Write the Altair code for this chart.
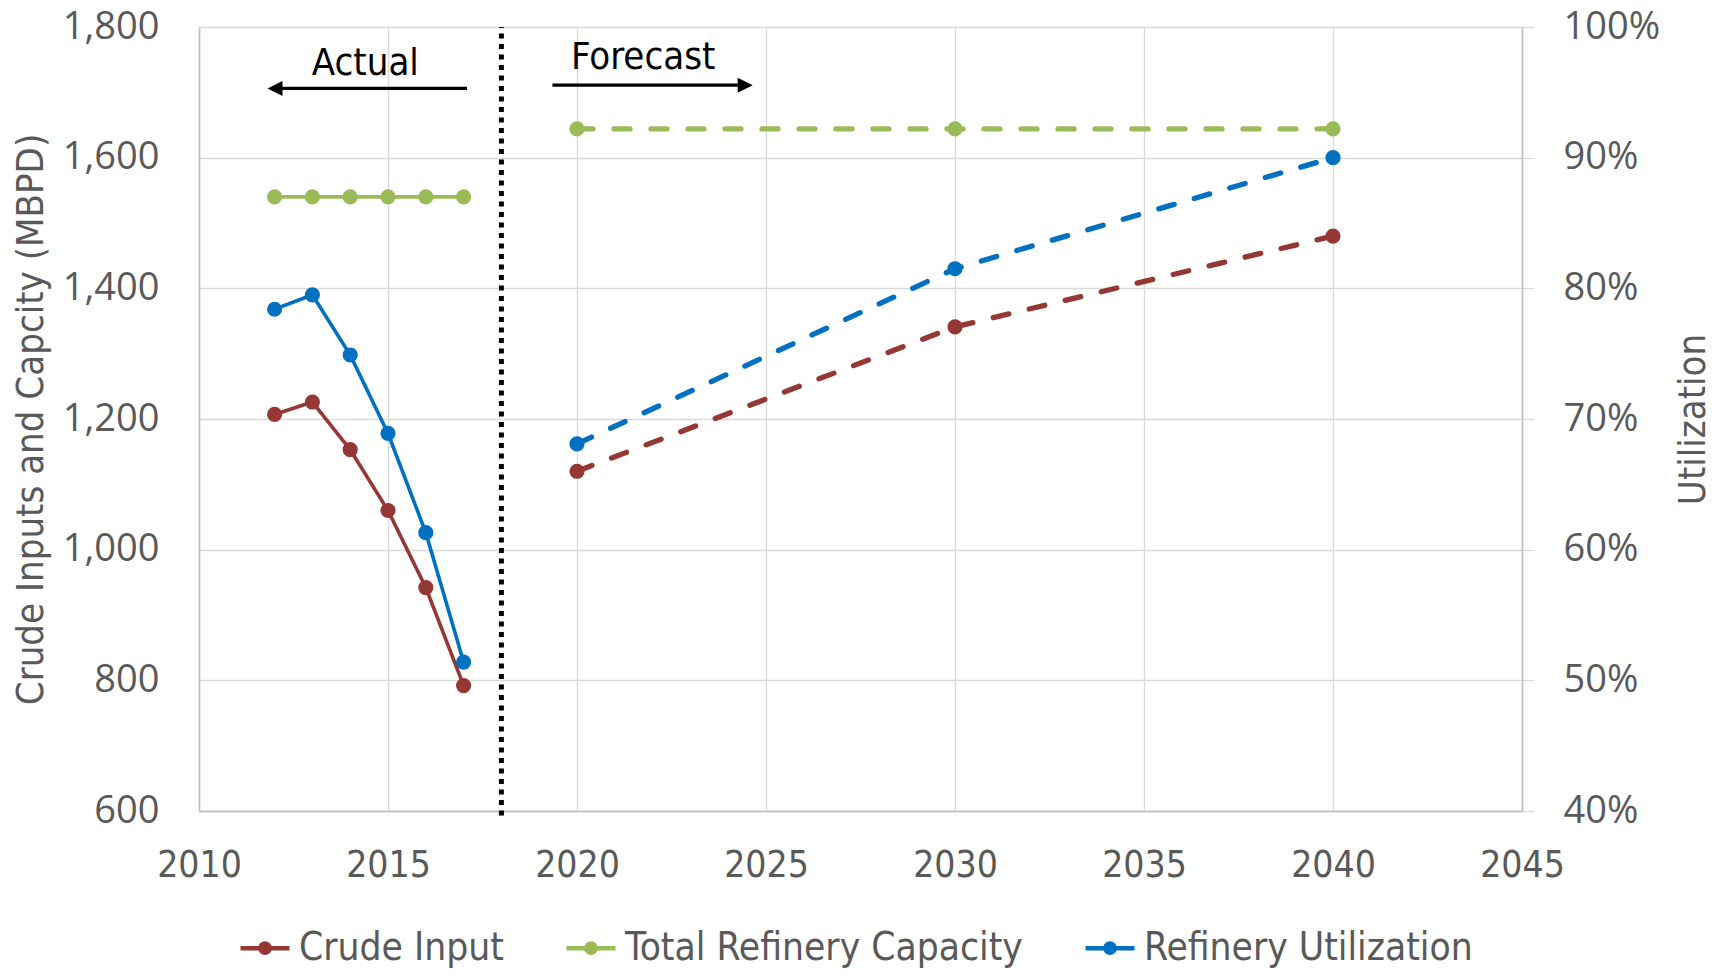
import altair as alt
import pandas as pd

# ---------------- data ----------------
years_actual = [2012, 2013, 2014, 2015, 2016, 2017]
crude_actual = [1207, 1226, 1153, 1060, 942, 792]
capacity_actual = [1540, 1540, 1540, 1540, 1540, 1540]
util_actual = [0.784, 0.795, 0.749, 0.689, 0.613, 0.514]

years_forecast = [2020, 2030, 2040]
crude_forecast = [1120, 1341, 1480]
capacity_forecast = [1644, 1644, 1644]
util_forecast = [0.681, 0.815, 0.900]

series_names = ["Crude Input", "Total Refinery Capacity", "Refinery Utilization"]
series_colors = ["#953735", "#9BBB59", "#0070C0"]
phases = ["Actual", "Forecast"]

x_ticks = [2010, 2015, 2020, 2025, 2030, 2035, 2040, 2045]
left_ticks = [600, 800, 1000, 1200, 1400, 1600, 1800]
right_ticks = [0.4, 0.5, 0.6, 0.7, 0.8, 0.9, 1.0]

divider_year = [2018]
divider_bottom = [593]
divider_top = [1800]

annotation_labels = ["Actual", "Forecast"]
annotation_x = [2014.4, 2021.75]
annotation_y = [1744, 1752]

arrow_dir = ["left", "right"]
arrow_tail_x = [2017.09, 2019.35]
arrow_head_x = [2012.01, 2024.45]
arrow_y = [1706, 1711]

# ---------------- styling ----------------
NARROW = "DejaVu Sans Condensed, sans-serif"
WIDE = "Open Sans, Liberation Sans, sans-serif"
GREY_TEXT = "#595959"
GRID = "#d9d9d9"
AXIS_LINE = "#bfbfbf"

# stroked legend glyph: a short line with a dot in the middle
LEGEND_SYMBOL = ("M-1,0L1,0 "
                 "M0.19,0A0.19,0.19 0 1,1 -0.19,0A0.19,0.19 0 1,1 0.19,0 "
                 "M0.09,0A0.09,0.09 0 1,1 -0.09,0A0.09,0.09 0 1,1 0.09,0")
ARROW_LEFT = "M-1,0L1,-1L1,1Z"
ARROW_RIGHT = "M1,0L-1,-1L-1,1Z"

left_df = pd.DataFrame({
    "year": years_actual + years_actual + years_forecast + years_forecast,
    "series": ["Crude Input"] * 6 + ["Total Refinery Capacity"] * 6
    + ["Crude Input"] * 3 + ["Total Refinery Capacity"] * 3,
    "phase": ["Actual"] * 12 + ["Forecast"] * 6,
    "value": crude_actual + capacity_actual + crude_forecast + capacity_forecast,
})
right_df = pd.DataFrame({
    "year": years_actual + years_forecast,
    "series": ["Refinery Utilization"] * 9,
    "phase": ["Actual"] * 6 + ["Forecast"] * 3,
    "value": util_actual + util_forecast,
})
div_df = pd.DataFrame({"year": divider_year, "lo": divider_bottom, "hi": divider_top})
ann_df = pd.DataFrame({"label": annotation_labels, "tx": annotation_x, "ty": annotation_y})
arrow_df = pd.DataFrame({"dir": arrow_dir, "tail": arrow_tail_x, "head": arrow_head_x, "ay": arrow_y})

x_scale = alt.Scale(domain=[2010, 2045], nice=False, zero=False)
yl_scale = alt.Scale(domain=[600, 1800], nice=False, zero=False)
yr_scale = alt.Scale(domain=[0.4, 1.0], nice=False, zero=False)
color_scale = alt.Scale(domain=series_names, range=series_colors)
dash_scale = alt.Scale(domain=phases, range=[[1, 0], [16, 21]])
width_scale = alt.Scale(domain=phases, range=[3.6, 5.3])

x_axis = alt.Axis(values=x_ticks, format="d", title=None, grid=True, gridColor=GRID,
                  gridWidth=1.3, domainColor=AXIS_LINE, domainWidth=1.6, ticks=False,
                  labelFont=NARROW, labelFontSize=37, labelColor=GREY_TEXT,
                  labelPadding=36, labelFlush=False, labelOverlap=False)
yl_axis = alt.Axis(values=left_ticks, format=",d", title="Crude Inputs and Capcity (MBPD)",
                   grid=True, gridColor=GRID, gridWidth=1.3, domainColor=AXIS_LINE,
                   domainWidth=1.6, ticks=False, labelFont=WIDE, labelFontSize=38,
                   labelColor=GREY_TEXT, labelPadding=40, labelFlush=False,
                   labelOverlap=False, titleFont=NARROW, titleFontSize=38,
                   titleFontWeight="normal", titleColor=GREY_TEXT, titleAngle=270,
                   titleAlign="center", titleBaseline="middle", titleX=-168, titleY=392)
yr_axis = alt.Axis(values=right_ticks, format=".0%", orient="right", title="Utilization",
                   grid=False, domainColor=AXIS_LINE, domainWidth=1.6, ticks=True,
                   tickColor=GRID, tickSize=12, tickWidth=1.3, labelFont=WIDE,
                   labelFontSize=38, labelColor=GREY_TEXT, labelPadding=29,
                   labelFlush=False, labelOverlap=False, titleFont=NARROW,
                   titleFontSize=38, titleFontWeight="normal", titleColor=GREY_TEXT,
                   titleAngle=270, titleAlign="center", titleBaseline="middle",
                   titleX=171, titleY=392)

legend_def = alt.Legend(title=None, orient="none", legendX=39, legendY=894,
                        direction="horizontal", symbolType=LEGEND_SYMBOL, symbolSize=2401,
                        symbolStrokeWidth=4.5, symbolOpacity=1, symbolFillColor="transparent",
                        labelFont=NARROW, labelFontSize=38.6, labelColor=GREY_TEXT,
                        labelOffset=7, columnPadding=53, labelLimit=800)

X = alt.X("year:Q", scale=x_scale, axis=x_axis)
YL = alt.Y("value:Q", scale=yl_scale, axis=yl_axis)
YR = alt.Y("value:Q", scale=yr_scale, axis=yr_axis)

left_lines = alt.Chart(left_df).mark_line(strokeCap="round", strokeJoin="round").encode(
    x=X, y=YL,
    color=alt.Color("series:N", scale=color_scale, legend=legend_def),
    detail="phase:N",
    strokeDash=alt.StrokeDash("phase:N", scale=dash_scale, legend=None),
    strokeWidth=alt.StrokeWidth("phase:N", scale=width_scale, legend=None),
)
left_points = alt.Chart(left_df).mark_point(filled=True, size=230, opacity=1, strokeWidth=0).encode(
    x=X, y=YL,
    fill=alt.Fill("series:N", scale=color_scale, legend=None),
)
divider = alt.Chart(div_df).mark_rule(color="black", strokeWidth=5, strokeDash=[5, 5.5]).encode(
    x=X,
    y=alt.Y("lo:Q", scale=yl_scale, axis=yl_axis),
    y2="hi:Q",
)
texts = alt.Chart(ann_df).mark_text(font=NARROW, fontSize=38, color="black",
                                    align="center", baseline="middle").encode(
    x=alt.X("tx:Q", scale=x_scale, axis=x_axis),
    y=alt.Y("ty:Q", scale=yl_scale, axis=yl_axis),
    text="label:N",
)
arrow_shafts = alt.Chart(arrow_df).mark_rule(color="black", strokeWidth=3.3).encode(
    x=alt.X("tail:Q", scale=x_scale, axis=x_axis),
    x2="head:Q",
    y=alt.Y("ay:Q", scale=yl_scale, axis=yl_axis),
)
arrow_heads = alt.Chart(arrow_df).mark_point(filled=True, size=225, opacity=1,
                                             color="black", strokeWidth=0).encode(
    x=alt.X("head:Q", scale=x_scale, axis=x_axis),
    y=alt.Y("ay:Q", scale=yl_scale, axis=yl_axis),
    shape=alt.Shape("dir:N", scale=alt.Scale(domain=arrow_dir, range=[ARROW_LEFT, ARROW_RIGHT]),
                    legend=None),
)

right_lines = alt.Chart(right_df).mark_line(strokeCap="round", strokeJoin="round").encode(
    x=X, y=YR,
    color=alt.Color("series:N", scale=color_scale, legend=legend_def),
    detail="phase:N",
    strokeDash=alt.StrokeDash("phase:N", scale=dash_scale, legend=None),
    strokeWidth=alt.StrokeWidth("phase:N", scale=width_scale, legend=None),
)
right_points = alt.Chart(right_df).mark_point(filled=True, size=230, opacity=1, strokeWidth=0).encode(
    x=X, y=YR,
    fill=alt.Fill("series:N", scale=color_scale, legend=None),
)

left_layer = alt.layer(left_lines, divider, left_points, texts, arrow_shafts, arrow_heads)
right_layer = alt.layer(right_lines, right_points)

chart = alt.layer(left_layer, right_layer).resolve_scale(
    y="independent"
).properties(
    width=1323,
    height=784,
    autosize=alt.AutoSizeParams(type="none"),
    padding={"left": 191, "top": 19, "right": 196, "bottom": 157},
).configure_view(stroke="transparent")

chart.save("out.html", embed_options={"renderer": "svg", "actions": False})
